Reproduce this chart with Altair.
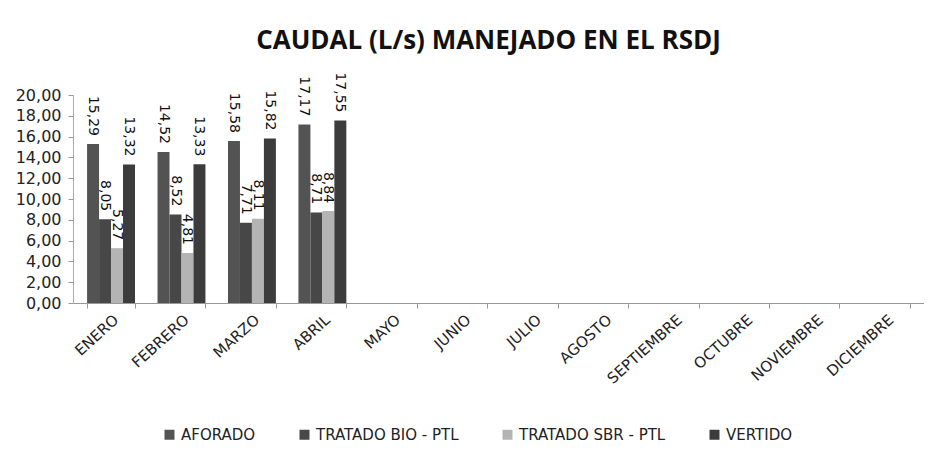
import altair as alt
import pandas as pd

months = ["ENERO", "FEBRERO", "MARZO", "ABRIL", "MAYO", "JUNIO", "JULIO",
          "AGOSTO", "SEPTIEMBRE", "OCTUBRE", "NOVIEMBRE", "DICIEMBRE"]
series = ["AFORADO", "TRATADO BIO - PTL", "TRATADO SBR - PTL", "VERTIDO"]
colors = ["#535353", "#474747", "#b4b4b4", "#3c3c3c"]

aforado = [15.29, 14.52, 15.58, 17.17]
bio = [8.05, 8.52, 7.71, 8.71]
sbr = [5.27, 4.81, 8.11, 8.84]
vertido = [13.32, 13.33, 15.82, 17.55]

rows = []
for name, vals in zip(series, [aforado, bio, sbr, vertido]):
    for m, v in zip(months, vals):
        rows.append({"mes": m, "serie": name, "valor": v,
                     "etiqueta": f"{v:.2f}".replace(".", ",")})
df = pd.DataFrame(rows)

FONT = "DejaVu Sans"

x = alt.X("mes:N", sort=months, scale=alt.Scale(domain=months, paddingInner=0.32, paddingOuter=0.2),
          axis=alt.Axis(title=None, labelAngle=-42, tickBand="extent", labelFontSize=15,
                        labelFont=FONT, labelColor="#222", domainColor="#999",
                        tickColor="#999", labelPadding=4))
y = alt.Y("valor:Q", scale=alt.Scale(domain=[0, 20]),
          axis=alt.Axis(title=None, values=list(range(0, 21, 2)), grid=False,
                        labelExpr="replace(format(datum.value, '.2f'), '.', ',')",
                        labelFont=FONT, labelFontSize=16, labelColor="#222", domainColor="#aaa",
                        tickColor="#999", labelPadding=7))
xo = alt.XOffset("serie:N", sort=series, scale=alt.Scale(domain=series, paddingInner=0, paddingOuter=0))

bars = alt.Chart(df).mark_bar().encode(
    x=x, y=y, xOffset=xo,
    color=alt.Color("serie:N", sort=series, scale=alt.Scale(domain=series, range=colors),
                    legend=alt.Legend(title=None, orient="none", direction="horizontal",
                                      legendX=89, legendY=332, labelFont=FONT,
                                      symbolType="square", symbolSize=100, labelFontSize=15,
                                      labelColor="#222", columnPadding=41, labelOffset=4,
                                      symbolStrokeWidth=0)),
)

labels = alt.Chart(df).mark_text(angle=90, align="right", baseline="middle", dx=-8,
                                 fontSize=14, color="#111", font=FONT).encode(
    x=x, y=y, xOffset=xo, text="etiqueta:N")

chart = alt.layer(bars, labels).properties(
    width=851, height=208,
    title=alt.TitleParams("CAUDAL (L/s) MANEJADO EN EL RSDJ", fontSize=26, fontWeight="bold",
                          font="Open Sans", color="#111", offset=18, anchor="middle", dx=-10),
    padding={"left": 7, "top": 20, "right": 0, "bottom": 5},
    view=alt.ViewBackground(stroke=None),
).configure_view(stroke=None)

chart.save("out.html", embed_options={"renderer": "svg", "actions": False})
